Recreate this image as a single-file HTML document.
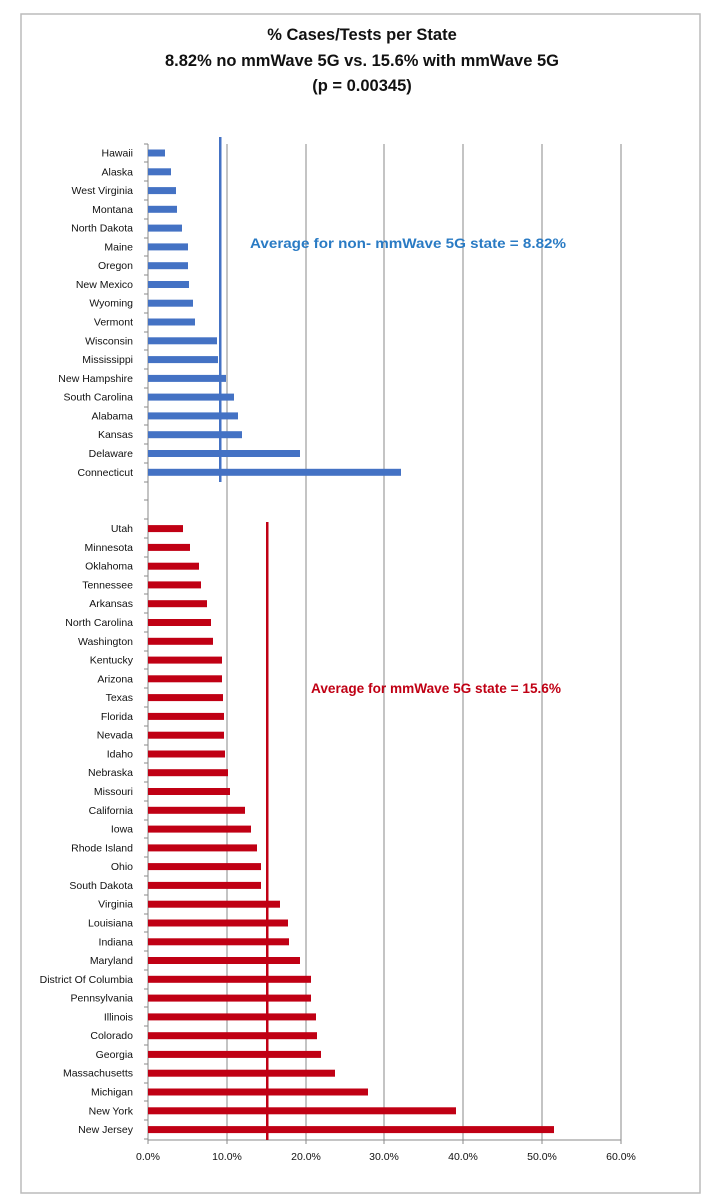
<!DOCTYPE html>
<html><head><meta charset="utf-8"><style>
html,body{margin:0;padding:0;background:#fff;width:710px;height:1200px;overflow:hidden}
svg{display:block}
.l{font-family:"Liberation Sans",sans-serif;font-size:10.5px;fill:#111;text-anchor:end}
.b{fill:#4472c4}.r{fill:#c00014}
.t{font-family:"Liberation Sans",sans-serif;font-weight:bold;font-size:16.5px;fill:#111;text-anchor:middle}
.x{font-family:"Liberation Sans",sans-serif;font-size:10.5px;fill:#111;text-anchor:middle}
</style></head><body>
<svg width="710" height="1200" viewBox="0 0 710 1200">
<rect x="0" y="0" width="710" height="1200" fill="#fff"/>
<rect x="21" y="14" width="679" height="1179" fill="none" stroke="#bbb" stroke-width="1.5"/>
<text class="t" x="362" y="40">% Cases/Tests per State</text>
<text class="t" x="362" y="66">8.82% no mmWave 5G vs. 15.6% with mmWave 5G</text>
<text class="t" x="362" y="91">(p = 0.00345)</text>
<g stroke="#888" stroke-width="1">
<line x1="227" y1="144" x2="227" y2="1140"/><line x1="306" y1="144" x2="306" y2="1140"/>
<line x1="384" y1="144" x2="384" y2="1140"/><line x1="463" y1="144" x2="463" y2="1140"/>
<line x1="542" y1="144" x2="542" y2="1140"/><line x1="621" y1="144" x2="621" y2="1140"/>
<line x1="148" y1="144" x2="148" y2="1140"/>
</g>
<g stroke="#888" stroke-width="1">
<line x1="144" y1="144" x2="148" y2="144"/><line x1="144" y1="162" x2="148" y2="162"/><line x1="144" y1="181" x2="148" y2="181"/><line x1="144" y1="200" x2="148" y2="200"/><line x1="144" y1="219" x2="148" y2="219"/><line x1="144" y1="238" x2="148" y2="238"/><line x1="144" y1="256" x2="148" y2="256"/><line x1="144" y1="275" x2="148" y2="275"/><line x1="144" y1="294" x2="148" y2="294"/><line x1="144" y1="313" x2="148" y2="313"/><line x1="144" y1="332" x2="148" y2="332"/><line x1="144" y1="350" x2="148" y2="350"/><line x1="144" y1="369" x2="148" y2="369"/><line x1="144" y1="388" x2="148" y2="388"/><line x1="144" y1="407" x2="148" y2="407"/><line x1="144" y1="425" x2="148" y2="425"/><line x1="144" y1="444" x2="148" y2="444"/><line x1="144" y1="463" x2="148" y2="463"/><line x1="144" y1="482" x2="148" y2="482"/><line x1="144" y1="500" x2="148" y2="500"/><line x1="144" y1="519" x2="148" y2="519"/><line x1="144" y1="538" x2="148" y2="538"/><line x1="144" y1="557" x2="148" y2="557"/><line x1="144" y1="576" x2="148" y2="576"/><line x1="144" y1="594" x2="148" y2="594"/><line x1="144" y1="613" x2="148" y2="613"/><line x1="144" y1="632" x2="148" y2="632"/><line x1="144" y1="651" x2="148" y2="651"/><line x1="144" y1="669" x2="148" y2="669"/><line x1="144" y1="688" x2="148" y2="688"/><line x1="144" y1="707" x2="148" y2="707"/><line x1="144" y1="726" x2="148" y2="726"/><line x1="144" y1="745" x2="148" y2="745"/><line x1="144" y1="763" x2="148" y2="763"/><line x1="144" y1="782" x2="148" y2="782"/><line x1="144" y1="801" x2="148" y2="801"/><line x1="144" y1="820" x2="148" y2="820"/><line x1="144" y1="838" x2="148" y2="838"/><line x1="144" y1="857" x2="148" y2="857"/><line x1="144" y1="876" x2="148" y2="876"/><line x1="144" y1="895" x2="148" y2="895"/><line x1="144" y1="914" x2="148" y2="914"/><line x1="144" y1="932" x2="148" y2="932"/><line x1="144" y1="951" x2="148" y2="951"/><line x1="144" y1="970" x2="148" y2="970"/><line x1="144" y1="989" x2="148" y2="989"/><line x1="144" y1="1007" x2="148" y2="1007"/><line x1="144" y1="1026" x2="148" y2="1026"/><line x1="144" y1="1045" x2="148" y2="1045"/><line x1="144" y1="1064" x2="148" y2="1064"/><line x1="144" y1="1083" x2="148" y2="1083"/><line x1="144" y1="1101" x2="148" y2="1101"/><line x1="144" y1="1120" x2="148" y2="1120"/><line x1="144" y1="1139" x2="148" y2="1139"/>
<line x1="148" y1="1140" x2="148" y2="1144"/><line x1="227" y1="1140" x2="227" y2="1144"/><line x1="306" y1="1140" x2="306" y2="1144"/><line x1="384" y1="1140" x2="384" y2="1144"/><line x1="463" y1="1140" x2="463" y2="1144"/><line x1="542" y1="1140" x2="542" y2="1144"/><line x1="621" y1="1140" x2="621" y2="1144"/>
<line x1="148" y1="1140" x2="621" y2="1140"/>
</g>
<rect class="b" x="148" y="149.5" width="17" height="7"/><text class="l" x="133" y="156.5">Hawaii</text>
<rect class="b" x="148" y="168.3" width="23" height="7"/><text class="l" x="133" y="175.3">Alaska</text>
<rect class="b" x="148" y="187.1" width="28" height="7"/><text class="l" x="133" y="194.1">West Virginia</text>
<rect class="b" x="148" y="205.8" width="29" height="7"/><text class="l" x="133" y="212.8">Montana</text>
<rect class="b" x="148" y="224.6" width="34" height="7"/><text class="l" x="133" y="231.6">North Dakota</text>
<rect class="b" x="148" y="243.4" width="40" height="7"/><text class="l" x="133" y="250.4">Maine</text>
<rect class="b" x="148" y="262.2" width="40" height="7"/><text class="l" x="133" y="269.2">Oregon</text>
<rect class="b" x="148" y="281.0" width="41" height="7"/><text class="l" x="133" y="288.0">New Mexico</text>
<rect class="b" x="148" y="299.7" width="45" height="7"/><text class="l" x="133" y="306.7">Wyoming</text>
<rect class="b" x="148" y="318.5" width="47" height="7"/><text class="l" x="133" y="325.5">Vermont</text>
<rect class="b" x="148" y="337.3" width="69" height="7"/><text class="l" x="133" y="344.3">Wisconsin</text>
<rect class="b" x="148" y="356.1" width="70" height="7"/><text class="l" x="133" y="363.1">Mississippi</text>
<rect class="b" x="148" y="374.9" width="78" height="7"/><text class="l" x="133" y="381.9">New Hampshire</text>
<rect class="b" x="148" y="393.6" width="86" height="7"/><text class="l" x="133" y="400.6">South Carolina</text>
<rect class="b" x="148" y="412.4" width="90" height="7"/><text class="l" x="133" y="419.4">Alabama</text>
<rect class="b" x="148" y="431.2" width="94" height="7"/><text class="l" x="133" y="438.2">Kansas</text>
<rect class="b" x="148" y="450.0" width="152" height="7"/><text class="l" x="133" y="457.0">Delaware</text>
<rect class="b" x="148" y="468.8" width="253" height="7"/><text class="l" x="133" y="475.8">Connecticut</text>
<rect x="219" y="137" width="2.5" height="345" fill="#4472c4"/>
<text x="250" y="248" font-family="Liberation Sans,sans-serif" font-weight="bold" font-size="14" fill="#2a7bc4" textLength="316" lengthAdjust="spacingAndGlyphs">Average for non- mmWave 5G state =  8.82%</text>
<rect class="r" x="148" y="525.1" width="35" height="7"/><text class="l" x="133" y="532.1">Utah</text>
<rect class="r" x="148" y="543.9" width="42" height="7"/><text class="l" x="133" y="550.9">Minnesota</text>
<rect class="r" x="148" y="562.7" width="51" height="7"/><text class="l" x="133" y="569.7">Oklahoma</text>
<rect class="r" x="148" y="581.4" width="53" height="7"/><text class="l" x="133" y="588.4">Tennessee</text>
<rect class="r" x="148" y="600.2" width="59" height="7"/><text class="l" x="133" y="607.2">Arkansas</text>
<rect class="r" x="148" y="619.0" width="63" height="7"/><text class="l" x="133" y="626.0">North Carolina</text>
<rect class="r" x="148" y="637.8" width="65" height="7"/><text class="l" x="133" y="644.8">Washington</text>
<rect class="r" x="148" y="656.6" width="74" height="7"/><text class="l" x="133" y="663.6">Kentucky</text>
<rect class="r" x="148" y="675.3" width="74" height="7"/><text class="l" x="133" y="682.3">Arizona</text>
<rect class="r" x="148" y="694.1" width="75" height="7"/><text class="l" x="133" y="701.1">Texas</text>
<rect class="r" x="148" y="712.9" width="76" height="7"/><text class="l" x="133" y="719.9">Florida</text>
<rect class="r" x="148" y="731.7" width="76" height="7"/><text class="l" x="133" y="738.7">Nevada</text>
<rect class="r" x="148" y="750.5" width="77" height="7"/><text class="l" x="133" y="757.5">Idaho</text>
<rect class="r" x="148" y="769.2" width="80" height="7"/><text class="l" x="133" y="776.2">Nebraska</text>
<rect class="r" x="148" y="788.0" width="82" height="7"/><text class="l" x="133" y="795.0">Missouri</text>
<rect class="r" x="148" y="806.8" width="97" height="7"/><text class="l" x="133" y="813.8">California</text>
<rect class="r" x="148" y="825.6" width="103" height="7"/><text class="l" x="133" y="832.6">Iowa</text>
<rect class="r" x="148" y="844.4" width="109" height="7"/><text class="l" x="133" y="851.4">Rhode Island</text>
<rect class="r" x="148" y="863.1" width="113" height="7"/><text class="l" x="133" y="870.1">Ohio</text>
<rect class="r" x="148" y="881.9" width="113" height="7"/><text class="l" x="133" y="888.9">South Dakota</text>
<rect class="r" x="148" y="900.7" width="132" height="7"/><text class="l" x="133" y="907.7">Virginia</text>
<rect class="r" x="148" y="919.5" width="140" height="7"/><text class="l" x="133" y="926.5">Louisiana</text>
<rect class="r" x="148" y="938.3" width="141" height="7"/><text class="l" x="133" y="945.3">Indiana</text>
<rect class="r" x="148" y="957.0" width="152" height="7"/><text class="l" x="133" y="964.0">Maryland</text>
<rect class="r" x="148" y="975.8" width="163" height="7"/><text class="l" x="133" y="982.8">District Of Columbia</text>
<rect class="r" x="148" y="994.6" width="163" height="7"/><text class="l" x="133" y="1001.6">Pennsylvania</text>
<rect class="r" x="148" y="1013.4" width="168" height="7"/><text class="l" x="133" y="1020.4">Illinois</text>
<rect class="r" x="148" y="1032.2" width="169" height="7"/><text class="l" x="133" y="1039.2">Colorado</text>
<rect class="r" x="148" y="1050.9" width="173" height="7"/><text class="l" x="133" y="1057.9">Georgia</text>
<rect class="r" x="148" y="1069.7" width="187" height="7"/><text class="l" x="133" y="1076.7">Massachusetts</text>
<rect class="r" x="148" y="1088.5" width="220" height="7"/><text class="l" x="133" y="1095.5">Michigan</text>
<rect class="r" x="148" y="1107.3" width="308" height="7"/><text class="l" x="133" y="1114.3">New York</text>
<rect class="r" x="148" y="1126.1" width="406" height="7"/><text class="l" x="133" y="1133.1">New Jersey</text>
<rect x="266" y="522" width="2.5" height="618" fill="#c00014"/>
<text x="311" y="693" font-family="Liberation Sans,sans-serif" font-weight="bold" font-size="14" fill="#c00014" textLength="250" lengthAdjust="spacingAndGlyphs">Average for mmWave 5G state = 15.6%</text>
<text class="x" x="148" y="1160">0.0%</text><text class="x" x="227" y="1160">10.0%</text><text class="x" x="306" y="1160">20.0%</text><text class="x" x="384" y="1160">30.0%</text><text class="x" x="463" y="1160">40.0%</text><text class="x" x="542" y="1160">50.0%</text><text class="x" x="621" y="1160">60.0%</text>
</svg>
</body></html>
